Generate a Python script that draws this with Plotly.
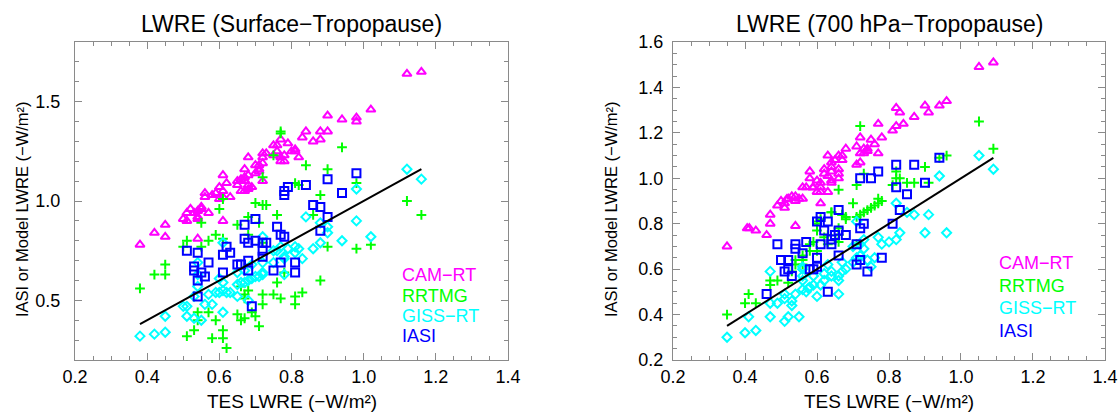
import plotly.graph_objects as go

# ---- Surface-Tropopause panel ----
cam_l_x = [1.16, 1.12, 1.02, 0.90, 0.94, 0.98, 0.98, 0.84, 0.88, 0.90, 0.83, 0.86, 0.88, 0.77, 0.75, 0.76,
           0.79, 0.81, 0.81, 0.80, 0.82, 0.76, 0.75, 0.77, 0.78, 0.77, 0.78, 0.68, 0.72, 0.73, 0.72, 0.70,
           0.71, 0.72, 0.71, 0.70, 0.71, 0.61, 0.67, 0.68, 0.67, 0.66, 0.65, 0.65, 0.67, 0.68, 0.69, 0.68,
           0.67, 0.66, 0.72, 0.62, 0.60, 0.61, 0.56, 0.59, 0.58, 0.56, 0.60, 0.61, 0.63, 0.55, 0.55, 0.54,
           0.52, 0.51, 0.53, 0.54, 0.54, 0.50, 0.51, 0.57, 0.61, 0.45, 0.42, 0.45, 0.38, 0.54]
cam_l_y = [1.65, 1.64, 1.46, 1.43, 1.41, 1.42, 1.40, 1.35, 1.35, 1.35, 1.32, 1.30, 1.31, 1.31, 1.28, 1.28,
           1.29, 1.26, 1.25, 1.25, 1.22, 1.25, 1.23, 1.22, 1.23, 1.20, 1.20, 1.22, 1.24, 1.24, 1.22, 1.18,
           1.18, 1.19, 1.16, 1.14, 1.15, 1.13, 1.16, 1.13, 1.12, 1.11, 1.10, 1.08, 1.10, 1.08, 1.07, 1.06,
           1.05, 1.05, 1.10, 1.09, 1.07, 1.05, 1.04, 1.04, 1.03, 1.02, 1.01, 1.02, 1.02, 0.97, 0.96, 0.95,
           0.96, 0.94, 0.94, 0.92, 0.91, 0.91, 0.90, 0.94, 0.90, 0.88, 0.84, 0.82, 0.78, 0.81]

rrtmg_l_x = [0.77, 0.77, 0.75, 0.94, 0.84, 0.90, 0.72, 0.81, 0.82, 0.98, 0.88, 0.70, 0.72, 0.73, 0.60, 0.61,
             1.12, 1.16, 0.76, 0.86, 0.68, 0.65, 0.71, 0.55, 0.59, 0.61, 0.57, 0.51, 0.50, 0.55, 0.45, 0.42,
             0.45, 0.38, 0.68, 0.72, 0.90, 0.98, 1.02, 0.88, 0.83, 0.81, 0.77, 0.75, 0.76, 0.78, 0.72, 0.72,
             0.81, 0.68, 0.67, 0.67, 0.66, 0.69, 0.70, 0.65, 0.66, 0.67, 0.71, 0.59, 0.57, 0.54, 0.54, 0.53,
             0.51, 0.58, 0.61, 0.61, 0.62]
rrtmg_l_y = [1.35, 1.34, 1.23, 1.27, 1.18, 1.16, 1.12, 1.09, 1.08, 1.09, 1.03, 0.99, 0.98, 0.98, 0.96, 1.01,
             1.00, 0.93, 0.93, 0.93, 0.92, 0.88, 0.89, 0.89, 0.83, 0.81, 0.80, 0.80, 0.77, 0.77, 0.68, 0.63,
             0.63, 0.56, 0.83, 0.79, 0.77, 0.76, 0.78, 0.60, 0.54, 0.52, 0.51, 0.53, 0.59, 0.64, 0.53, 0.48,
             0.48, 0.55, 0.53, 0.51, 0.57, 0.44, 0.42, 0.43, 0.40, 0.41, 0.37, 0.40, 0.44, 0.44, 0.40, 0.35,
             0.32, 0.31, 0.35, 0.31, 0.26]

giss_l_x = [1.12, 1.16, 0.98, 0.84, 0.88, 0.90, 0.98, 0.90, 0.88, 0.94, 1.02, 0.86, 0.83, 0.82, 0.81, 0.81,
            0.79, 0.78, 0.78, 0.77, 0.76, 0.75, 0.75, 0.78, 0.72, 0.72, 0.72, 0.72, 0.71, 0.70, 0.69, 0.68,
            0.67, 0.66, 0.65, 0.65, 0.68, 0.69, 0.67, 0.65, 0.61, 0.60, 0.61, 0.61, 0.63, 0.59, 0.60, 0.62,
            0.54, 0.54, 0.54, 0.53, 0.57, 0.56, 0.58, 0.50, 0.51, 0.51, 0.53, 0.55, 0.45, 0.61, 0.45, 0.42,
            0.38]
giss_l_y = [1.16, 1.11, 1.06, 0.92, 0.89, 0.87, 0.90, 0.84, 0.79, 0.80, 0.82, 0.76, 0.71, 0.76, 0.77, 0.74,
            0.76, 0.72, 0.71, 0.77, 0.75, 0.75, 0.69, 0.63, 0.82, 0.69, 0.64, 0.63, 0.62, 0.62, 0.61, 0.60,
            0.59, 0.59, 0.58, 0.52, 0.50, 0.68, 0.65, 0.64, 0.79, 0.61, 0.59, 0.55, 0.54, 0.54, 0.54, 0.54,
            0.69, 0.63, 0.57, 0.52, 0.53, 0.48, 0.48, 0.47, 0.47, 0.42, 0.41, 0.40, 0.42, 0.44, 0.34, 0.33,
            0.32]

iasi_l_x = [0.98, 0.90, 0.84, 0.79, 0.78, 0.78, 0.94, 0.86, 0.88, 0.90, 0.70, 0.67, 0.76, 0.88, 0.77, 0.78,
            0.67, 0.68, 0.70, 0.72, 0.73, 0.72, 0.72, 0.62, 0.63, 0.61, 0.68, 0.65, 0.66, 0.68, 0.61, 0.57,
            0.51, 0.54, 0.53, 0.53, 0.55, 0.56, 0.54, 0.54, 0.77, 0.81, 0.81, 0.75, 0.69]
iasi_l_y = [1.14, 1.11, 1.08, 1.07, 1.05, 1.03, 1.04, 0.98, 0.97, 0.92, 0.91, 0.88, 0.87, 0.85, 0.83, 0.82,
            0.81, 0.79, 0.80, 0.79, 0.79, 0.75, 0.72, 0.77, 0.74, 0.73, 0.70, 0.68, 0.68, 0.65, 0.64, 0.69,
            0.75, 0.74, 0.67, 0.65, 0.64, 0.62, 0.60, 0.52, 0.69, 0.69, 0.64, 0.65, 0.47]

# ---- 700 hPa-Tropopause panel ----
cam_r_x = [1.09, 1.05, 0.90, 0.94, 0.96, 0.91, 0.82, 0.83, 0.84, 0.82, 0.87, 0.77, 0.78, 0.75, 0.76, 0.77,
           0.81, 0.72, 0.71, 0.72, 0.73, 0.74, 0.74, 0.73, 0.71, 0.72, 0.68, 0.67, 0.66, 0.67, 0.65, 0.63,
           0.64, 0.64, 0.62, 0.62, 0.63, 0.64, 0.66, 0.66, 0.66, 0.64, 0.64, 0.60, 0.61, 0.61, 0.60, 0.61,
           0.63, 0.59, 0.588, 0.58, 0.58, 0.57, 0.56, 0.55, 0.56, 0.54, 0.54, 0.53, 0.52, 0.516, 0.51, 0.51,
           0.50, 0.49, 0.54, 0.61, 0.47, 0.47, 0.406, 0.412, 0.43, 0.46, 0.35]
cam_r_y = [1.51, 1.49, 1.32, 1.32, 1.34, 1.29, 1.31, 1.29, 1.24, 1.23, 1.27, 1.24, 1.18, 1.17, 1.15, 1.11,
           1.21, 1.18, 1.14, 1.11, 1.13, 1.13, 1.12, 1.11, 1.06, 1.07, 1.13, 1.10, 1.10, 1.08, 1.08, 1.10,
           1.07, 1.05, 1.04, 1.02, 1.01, 1.03, 1.02, 1.04, 1.00, 0.99, 0.98, 0.99, 0.98, 0.96, 0.94, 0.94,
           0.94, 0.96, 0.959, 1.03, 1.00, 0.96, 0.96, 0.91, 0.91, 0.90, 0.92, 0.92, 0.91, 0.908, 0.89, 0.87,
           0.90, 0.88, 0.79, 0.89, 0.84, 0.80, 0.78, 0.78, 0.77, 0.75, 0.70]

rrtmg_r_x = [1.09, 1.05, 0.96, 0.72, 0.71, 0.70, 0.73, 0.82, 0.82, 0.83, 0.85, 0.87, 0.90, 0.91, 0.81, 0.66,
             0.67, 0.68, 0.64, 0.60, 0.71, 0.72, 0.73, 0.74, 0.75, 0.76, 0.77, 0.77, 0.78, 0.94, 0.35, 0.40,
             0.41, 0.43, 0.47, 0.47, 0.49, 0.52, 0.53, 0.56, 0.54, 0.56, 0.54, 0.56, 0.58, 0.59, 0.58, 0.60,
             0.62, 0.63, 0.63, 0.65, 0.66, 0.66, 0.66, 0.60, 0.60, 0.61, 0.64, 0.67, 0.68, 0.71]
rrtmg_r_y = [1.13, 1.25, 1.10, 1.23, 0.97, 0.89, 1.02, 1.03, 1.00, 1.00, 0.98, 0.98, 1.05, 0.98, 0.97, 0.95,
             0.84, 0.83, 0.85, 0.81, 0.83, 0.84, 0.85, 0.86, 0.87, 0.88, 0.91, 0.89, 0.90, 1.09, 0.40, 0.45,
             0.49, 0.45, 0.53, 0.55, 0.55, 0.54, 0.59, 0.64, 0.64, 0.66, 0.62, 0.62, 0.68, 0.72, 0.71, 0.68,
             0.74, 0.71, 0.75, 0.73, 0.75, 0.72, 0.78, 0.80, 0.77, 0.82, 0.85, 0.84, 0.82, 0.71]

giss_r_x = [1.09, 1.05, 0.94, 0.82, 0.85, 0.87, 0.91, 0.71, 0.96, 0.90, 0.83, 0.82, 0.80, 0.78, 0.77, 0.76,
            0.75, 0.74, 0.73, 0.73, 0.72, 0.71, 0.70, 0.72, 0.70, 0.67, 0.68, 0.67, 0.66, 0.66, 0.66, 0.64,
            0.64, 0.63, 0.62, 0.62, 0.61, 0.60, 0.59, 0.59, 0.58, 0.576, 0.56, 0.56, 0.57, 0.54, 0.55, 0.56,
            0.56, 0.56, 0.53, 0.53, 0.52, 0.51, 0.51, 0.51, 0.49, 0.47, 0.47, 0.47, 0.41, 0.40, 0.43, 0.35]
giss_r_y = [1.04, 1.10, 1.01, 0.89, 0.85, 0.84, 0.84, 0.81, 0.76, 0.76, 0.76, 0.73, 0.72, 0.71, 0.74, 0.65,
            0.61, 0.64, 0.73, 0.69, 0.66, 0.65, 0.70, 0.71, 0.63, 0.63, 0.60, 0.59, 0.57, 0.55, 0.49, 0.57,
            0.59, 0.62, 0.58, 0.55, 0.53, 0.48, 0.57, 0.53, 0.52, 0.516, 0.55, 0.51, 0.50, 0.49, 0.39, 0.60,
            0.57, 0.61, 0.46, 0.44, 0.39, 0.37, 0.47, 0.49, 0.45, 0.45, 0.39, 0.59, 0.39, 0.32, 0.33, 0.30]

iasi_r_x = [0.94, 0.82, 0.87, 0.72, 0.75, 0.77, 0.82, 0.85, 0.90, 0.83, 0.81, 0.66, 0.61, 0.63, 0.60, 0.72,
            0.73, 0.49, 0.50, 0.52, 0.51, 0.52, 0.53, 0.46, 0.54, 0.54, 0.56, 0.57, 0.58, 0.59, 0.60, 0.60,
            0.61, 0.62, 0.64, 0.64, 0.65, 0.66, 0.68, 0.66, 0.63, 0.71, 0.71, 0.72, 0.74, 0.78]
iasi_r_y = [1.09, 1.06, 1.06, 1.00, 1.00, 1.03, 0.96, 0.93, 0.98, 0.86, 0.80, 0.86, 0.83, 0.81, 0.81, 0.78,
            0.80, 0.71, 0.64, 0.64, 0.59, 0.60, 0.57, 0.49, 0.71, 0.69, 0.67, 0.72, 0.60, 0.60, 0.65, 0.61,
            0.71, 0.77, 0.73, 0.71, 0.75, 0.77, 0.75, 0.66, 0.50, 0.71, 0.62, 0.64, 0.59, 0.65]

series_names = ["CAM-RT", "RRTMG", "GISS-RT", "IASI"]
legend_labels = ["CAM\u2212RT", "RRTMG", "GISS\u2212RT", "IASI"]
series_colors = ["#ff00ff", "#00ff00", "#00ffff", "#0000ff"]
series_symbols = ["triangle-up-open", "cross-thin-open", "diamond-open", "square-open"]
series_sizes = [8, 7, 7, 8]

panel_titles = ["LWRE (Surface\u2212Tropopause)", "LWRE (700 hPa\u2212Tropopause)"]
x_title = "TES LWRE (\u2212W/m\u00b2)"
y_title = "IASI or Model LWRE (\u2212W/m\u00b2)"

panels = [
    dict(xs=[cam_l_x, rrtmg_l_x, giss_l_x, iasi_l_x], ys=[cam_l_y, rrtmg_l_y, giss_l_y, iasi_l_y]),
    dict(xs=[cam_r_x, rrtmg_r_x, giss_r_x, iasi_r_x], ys=[cam_r_y, rrtmg_r_y, giss_r_y, iasi_r_y]),
]

W, H = 1120, 412
# plot-area pixel boxes (left, right, top, bottom)
boxes = [(75, 508, 42, 360), (673, 1105, 42, 360)]
ytitle_px = [22, 611]

fig = go.Figure()
font_main = "Liberation Sans, Arial, sans-serif"
axcol = "#8a8a8a"

for p, panel in enumerate(panels):
    xa = "x" if p == 0 else "x2"
    ya = "y" if p == 0 else "y2"
    for k in range(4):
        fig.add_trace(go.Scatter(
            x=panel["xs"][k], y=panel["ys"][k], mode="markers", name=series_names[k],
            xaxis=xa, yaxis=ya, showlegend=False,
            marker=dict(symbol=series_symbols[k], size=series_sizes[k], color=series_colors[k],
                        line=dict(width=2, color=series_colors[k])),
        ))
    # one-to-one reference line across the TES range
    tes_all = [v for arr in panel["xs"] for v in arr]
    lo, hi = min(tes_all), max(tes_all)
    fig.add_trace(go.Scatter(x=[lo, hi], y=[lo, hi], mode="lines", xaxis=xa, yaxis=ya,
                             showlegend=False, line=dict(color="black", width=2)))

common_axis = dict(showgrid=False, zeroline=False, showline=True, linecolor=axcol, linewidth=1,
                   mirror="allticks", ticks="inside", tickcolor=axcol, ticklen=7, tickwidth=1,
                   automargin=False,
                   tickfont=dict(family=font_main, size=18, color="black"))

def dom_x(b):
    return [b[0] / W, b[1] / W]

def dom_y(b):
    return [1 - b[3] / H, 1 - b[2] / H]

fig.update_layout(
    width=W, height=H, margin=dict(l=0, r=0, t=0, b=0),
    paper_bgcolor="white", plot_bgcolor="white",
    xaxis=dict(domain=dom_x(boxes[0]), range=[0.1999, 1.4001], dtick=0.2, tick0=0.2, tickformat=".1f",
               minor=dict(dtick=0.05, ticklen=4, ticks="inside", tickcolor=axcol),
               anchor="y", **common_axis),
    yaxis=dict(domain=dom_y(boxes[0]), range=[0.2, 1.8], dtick=0.5, tick0=0, tickformat=".1f",
               minor=dict(dtick=0.1, ticklen=4, ticks="inside", tickcolor=axcol),
               anchor="x", ticklabelstandoff=10, **common_axis),
    xaxis2=dict(domain=dom_x(boxes[1]), range=[0.1999, 1.4001], dtick=0.2, tick0=0.2, tickformat=".1f",
                minor=dict(dtick=0.05, ticklen=4, ticks="inside", tickcolor=axcol),
                anchor="y2", **common_axis),
    yaxis2=dict(domain=dom_y(boxes[1]), range=[0.1999, 1.6001], dtick=0.2, tick0=0.2, tickformat=".1f",
                minor=dict(dtick=0.05, ticklen=4, ticks="inside", tickcolor=axcol),
                anchor="x2", ticklabelstandoff=5, **common_axis),
)

annotations = []
for p, b in enumerate(boxes):
    cx = (b[0] + b[1]) / 2 / W
    annotations.append(dict(text=panel_titles[p], x=cx, y=1 - 24 / H, xref="paper", yref="paper",
                            showarrow=False, xanchor="center", yanchor="middle",
                            font=dict(family=font_main, size=23, color="black")))
    annotations.append(dict(text=x_title, x=cx, y=1 - 401 / H, xref="paper", yref="paper",
                            showarrow=False, xanchor="center", yanchor="middle",
                            font=dict(family=font_main, size=19, color="black")))
    annotations.append(dict(text=y_title, x=ytitle_px[p] / W, y=1 - 209 / H, xref="paper", yref="paper",
                            showarrow=False, xanchor="center", yanchor="middle", textangle=-90,
                            font=dict(family=font_main, size=16.5, color="black")))

legend_pos = [(400, [275, 296, 316, 336]), (997, [263, 286, 308, 331])]
for p, (lx, lys) in enumerate(legend_pos):
    for k in range(4):
        annotations.append(dict(text=legend_labels[k], x=lx / W, y=1 - lys[k] / H, xref="paper",
                                yref="paper", showarrow=False, xanchor="left", yanchor="middle",
                                font=dict(family=font_main, size=18, color=series_colors[k])))

fig.update_layout(annotations=annotations)
fig.write_html("out.html")
